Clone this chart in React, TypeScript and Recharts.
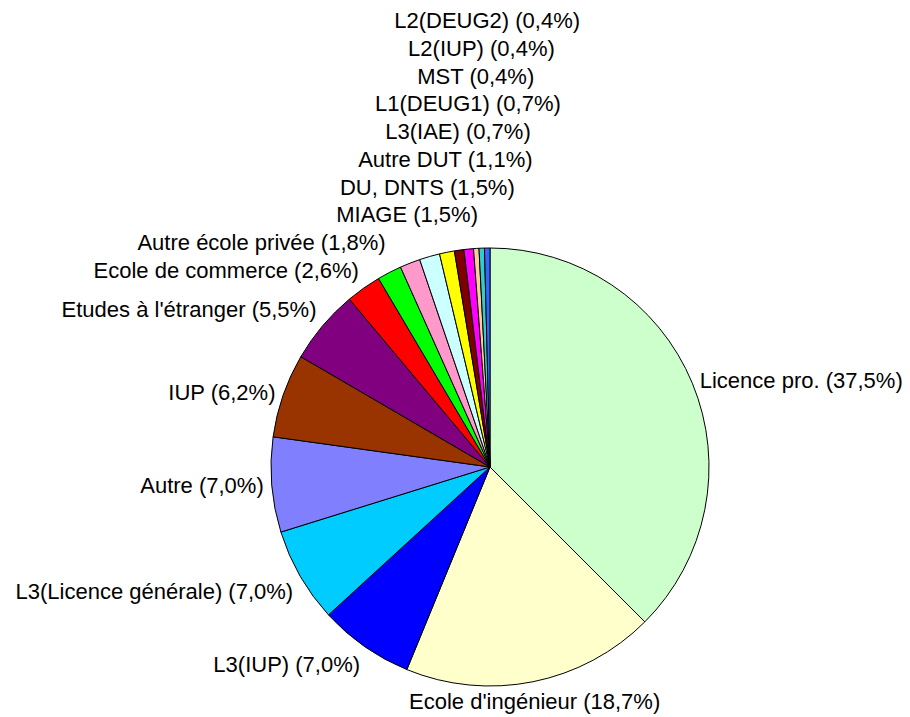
import { PieChart, Pie, Cell } from "recharts";

const categories = [
  "Licence pro.",
  "Ecole d'ingénieur",
  "L3(IUP)",
  "L3(Licence générale)",
  "Autre",
  "IUP",
  "Etudes à l'étranger",
  "Ecole de commerce",
  "Autre école privée",
  "MIAGE",
  "DU, DNTS",
  "Autre DUT",
  "L3(IAE)",
  "L1(DEUG1)",
  "MST",
  "L2(IUP)",
  "L2(DEUG2)",
];

const shares = [37.5, 18.7, 7.0, 7.0, 7.0, 6.2, 5.5, 2.6, 1.8, 1.5, 1.5, 1.1, 0.7, 0.7, 0.4, 0.4, 0.4];

const colors = [
  "#CCFFCC",
  "#FFFFCC",
  "#0000FF",
  "#00CCFF",
  "#8080FF",
  "#993300",
  "#800080",
  "#FF0000",
  "#00FF00",
  "#FF99CC",
  "#CCFFFF",
  "#FFFF00",
  "#800000",
  "#FF00FF",
  "#FFCC99",
  "#33CCCC",
  "#3366FF",
];

const data = categories.map((name, i) => ({ name, value: shares[i] }));

const FONT_SIZE = 22;
const FONT_FAMILY = "'Liberation Sans', Arial, sans-serif";
const PITCH = 27.7;
const HALF = 11.5;
const RADIAN = Math.PI / 180;

let ctx: CanvasRenderingContext2D | null = null;
const measure = (s: string) => {
  if (!ctx) {
    ctx = document.createElement("canvas").getContext("2d");
  }
  if (!ctx) return s.length * FONT_SIZE * 0.5;
  ctx.font = `${FONT_SIZE}px ${FONT_FAMILY}`;
  return ctx.measureText(s).width;
};

type Box = { x0: number; x1: number; y0: number; y1: number };
let placed: Box[] = [];

const renderLabel = (props: any) => {
  const { cx, cy, midAngle, outerRadius, index, name, value } = props;
  if (index === 0) placed = [];
  const text = `${name} (${Number(value).toFixed(1).replace(".", ",")}%)`;
  const w = measure(text);

  // angle clockwise from 12 o'clock
  const theta = (((90 - midAngle) % 360) + 360) % 360;
  const r = outerRadius + 8;
  const ax = cx + r * Math.sin(theta * RADIAN);
  const ay = cy - r * Math.cos(theta * RADIAN);
  const region = Math.floor((((theta + 22.51) % 360) + 360) % 360 / 45);

  let anchor: "start" | "middle" | "end" = "middle";
  let midY = ay;
  if (region === 1 || region === 2 || region === 3) anchor = "start";
  if (region === 5 || region === 6 || region === 7) anchor = "end";
  if (region === 0 || region === 1 || region === 7) midY = ay - HALF;
  if (region === 3 || region === 4 || region === 5) midY = ay + HALF;

  const x0 = anchor === "start" ? ax : anchor === "end" ? ax - w : ax - w / 2;
  const x1 = x0 + w;
  const goUp = theta > 270 || theta < 90;

  let moved = true;
  let guard = 0;
  while (moved && guard < 50) {
    moved = false;
    guard++;
    for (const b of placed) {
      const y0 = midY - PITCH / 2;
      const y1 = midY + PITCH / 2;
      if (x0 < b.x1 && x1 > b.x0 && y0 < b.y1 && y1 > b.y0) {
        midY = goUp ? b.y0 - PITCH / 2 : b.y1 + PITCH / 2;
        moved = true;
      }
    }
  }
  placed.push({ x0, x1, y0: midY - PITCH / 2, y1: midY + PITCH / 2 });

  return (
    <text
      key={`lbl-${index}`}
      x={ax}
      y={midY}
      textAnchor={anchor}
      dominantBaseline="central"
      fill="#000"
      fontSize={FONT_SIZE}
      fontFamily={FONT_FAMILY}
    >
      {text}
    </text>
  );
};

const App = () => {
  return (
    <div style={{ position: "absolute", left: 0, top: 0, background: "#fff" }}>
      <PieChart width={910} height={717} margin={{ top: 0, right: 0, bottom: 0, left: 0 }}>
        <Pie
          data={data}
          dataKey="value"
          nameKey="name"
          cx={490}
          cy={467}
          outerRadius={219}
          startAngle={90}
          endAngle={-270}
          stroke="#000"
          strokeWidth={1}
          label={renderLabel}
          labelLine={false}
          isAnimationActive={false}
        >
          {data.map((d, i) => (
            <Cell key={d.name} fill={colors[i]} />
          ))}
        </Pie>
      </PieChart>
    </div>
  );
};

export default App;
